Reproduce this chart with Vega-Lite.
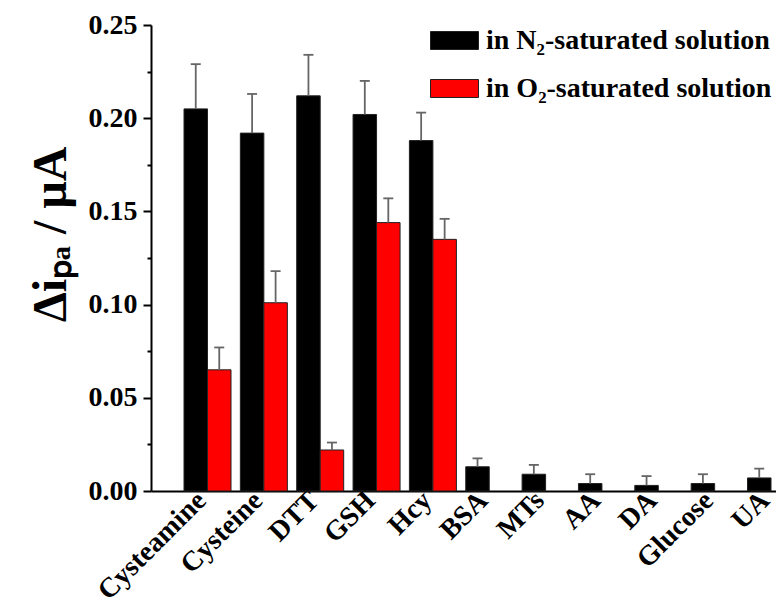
{
  "$schema": "https://vega.github.io/schema/vega-lite/v6.json",
  "width": 625,
  "height": 466,
  "autosize": {"type": "none"},
  "padding": {"left": 151, "top": 25, "right": 0, "bottom": 113},
  "background": "white",
  "config": {"view": {"stroke": null}, "font": "Liberation Serif"},
  "data": {
    "values": [
      {"analyte": "Cysteamine", "series": "in N₂-saturated solution", "value": 0.205, "upper": 0.229},
      {"analyte": "Cysteine", "series": "in N₂-saturated solution", "value": 0.192, "upper": 0.213},
      {"analyte": "DTT", "series": "in N₂-saturated solution", "value": 0.212, "upper": 0.234},
      {"analyte": "GSH", "series": "in N₂-saturated solution", "value": 0.202, "upper": 0.220},
      {"analyte": "Hcy", "series": "in N₂-saturated solution", "value": 0.188, "upper": 0.203},
      {"analyte": "BSA", "series": "in N₂-saturated solution", "value": 0.013, "upper": 0.0175},
      {"analyte": "MTs", "series": "in N₂-saturated solution", "value": 0.009, "upper": 0.014},
      {"analyte": "AA", "series": "in N₂-saturated solution", "value": 0.004, "upper": 0.009},
      {"analyte": "DA", "series": "in N₂-saturated solution", "value": 0.003, "upper": 0.008},
      {"analyte": "Glucose", "series": "in N₂-saturated solution", "value": 0.004, "upper": 0.009},
      {"analyte": "UA", "series": "in N₂-saturated solution", "value": 0.007, "upper": 0.012},
      {"analyte": "Cysteamine", "series": "in O₂-saturated solution", "value": 0.065, "upper": 0.077},
      {"analyte": "Cysteine", "series": "in O₂-saturated solution", "value": 0.101, "upper": 0.118},
      {"analyte": "DTT", "series": "in O₂-saturated solution", "value": 0.022, "upper": 0.026},
      {"analyte": "GSH", "series": "in O₂-saturated solution", "value": 0.144, "upper": 0.157},
      {"analyte": "Hcy", "series": "in O₂-saturated solution", "value": 0.135, "upper": 0.146}
    ]
  },
  "encoding": {
    "x": {
      "field": "analyte",
      "type": "nominal",
      "scale": {
        "type": "point",
        "domain": ["Cysteamine", "Cysteine", "DTT", "GSH", "Hcy", "BSA", "MTs", "AA", "DA", "Glucose", "UA"],
        "padding": 0.5457,
        "align": 0.9187
      },
      "axis": {
        "title": null,
        "labelAngle": -45,
        "labelAlign": "right",
        "labelBaseline": "middle",
        "labelOffset": -6,
        "labelFont": "Liberation Serif",
        "labelFontWeight": "bold",
        "labelFontSize": 28,
        "labelColor": "black",
        "labelPadding": 5,
        "ticks": false,
        "domainColor": "black",
        "domainWidth": 2,
        "grid": false
      }
    },
    "y": {
      "field": "value",
      "type": "quantitative",
      "scale": {"domain": [0, 0.25], "nice": false},
      "axis": {
        "values": [0, 0.025, 0.05, 0.075, 0.1, 0.125, 0.15, 0.175, 0.2, 0.225, 0.25],
        "labelExpr": "abs(datum.value*20 - round(datum.value*20)) < 0.001 ? format(datum.value, '.2f') : ''",
        "tickSize": {"condition": {"test": "abs(datum.value*20 - round(datum.value*20)) < 0.001", "value": 8}, "value": 4},
        "labelOverlap": false,
        "labelFont": "Liberation Serif",
        "labelFontWeight": "bold",
        "labelFontSize": 28,
        "labelColor": "black",
        "labelPadding": 6,
        "domainColor": "black",
        "domainWidth": 2,
        "tickColor": "black",
        "tickWidth": 2,
        "grid": false,
        "title": "Δiₚₐ / μA",
        "titleFont": "Liberation Serif",
        "titleFontWeight": "bold",
        "titleFontSize": 48,
        "titleColor": "black",
        "titleX": -76,
        "titleY": 209
      }
    }
  },
  "layer": [
    {
      "transform": [{"filter": "datum.series == 'in N₂-saturated solution'"}],
      "mark": {"type": "bar", "width": 23.5, "xOffset": -11.75, "stroke": "#222", "strokeWidth": 1},
      "encoding": {
        "color": {
          "field": "series",
          "type": "nominal",
          "scale": {"domain": ["in N₂-saturated solution", "in O₂-saturated solution"], "range": ["#000000", "#ff0000"]},
          "legend": {
            "orient": "none",
            "legendX": 279,
            "legendY": -9,
            "title": null,
            "padding": 0,
            "symbolType": "M-1,-0.375H1V0.375H-1Z",
            "symbolSize": 2304,
            "symbolStrokeColor": "#222",
            "symbolStrokeWidth": 1,
            "labelFont": "Liberation Serif",
            "labelFontWeight": "bold",
            "labelFontSize": 28,
            "labelColor": "black",
            "labelOffset": 7,
            "rowPadding": 9,
            "labelLimit": 400
          }
        }
      }
    },
    {
      "transform": [{"filter": "datum.series == 'in O₂-saturated solution'"}],
      "mark": {"type": "bar", "width": 23.5, "xOffset": 11.75, "stroke": "#222", "strokeWidth": 1},
      "encoding": {
        "color": {"field": "series", "type": "nominal"}
      }
    },
    {
      "transform": [{"filter": "datum.series == 'in N₂-saturated solution'"}],
      "mark": {"type": "rule", "xOffset": -11.75, "color": "#666666", "strokeWidth": 1.8},
      "encoding": {"y2": {"field": "upper"}}
    },
    {
      "transform": [{"filter": "datum.series == 'in O₂-saturated solution'"}],
      "mark": {"type": "rule", "xOffset": 11.75, "color": "#666666", "strokeWidth": 1.8},
      "encoding": {"y2": {"field": "upper"}}
    },
    {
      "transform": [{"filter": "datum.series == 'in N₂-saturated solution'"}],
      "mark": {"type": "tick", "orient": "horizontal", "xOffset": -11.75, "size": 10, "thickness": 1.8, "color": "#666666", "opacity": 1},
      "encoding": {"y": {"field": "upper", "type": "quantitative"}}
    },
    {
      "transform": [{"filter": "datum.series == 'in O₂-saturated solution'"}],
      "mark": {"type": "tick", "orient": "horizontal", "xOffset": 11.75, "size": 10, "thickness": 1.8, "color": "#666666", "opacity": 1},
      "encoding": {"y": {"field": "upper", "type": "quantitative"}}
    }
  ]
}
